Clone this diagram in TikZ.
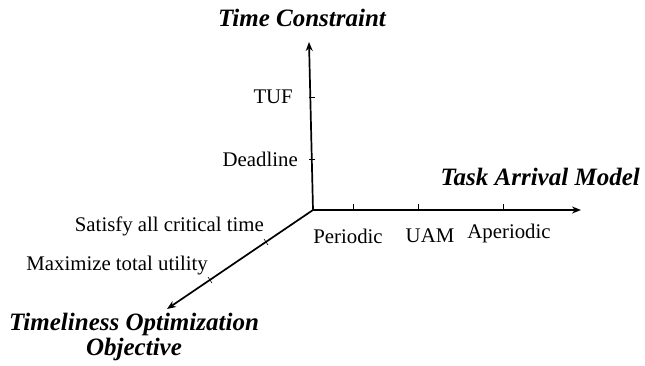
\documentclass[tikz,border=0pt]{standalone}
\usepackage{fontspec}
\setmainfont{Liberation Serif}
\usetikzlibrary{arrows.meta,calc}
\begin{document}
\begin{tikzpicture}[x=1pt,y=-1pt,
  axis/.style={line width=1.7pt,-{Stealth[length=9pt,width=7pt]}},
  tick/.style={line width=0.6pt},
  lbl/.style={font=\fontsize{20.8}{22}\selectfont,inner sep=0pt},
  title/.style={font=\fontsize{25}{25}\selectfont\bfseries\itshape,inner sep=0pt,align=center}]
\useasboundingbox (0,0) rectangle (645,365);
\coordinate (o) at (313,210);
\coordinate (ztip) at (309,42);
\coordinate (xtip) at (581,210);
\coordinate (ytip) at (167,309);
\draw[axis] (o) -- (ztip);
\draw[axis] (o) -- (xtip);
\draw[axis] (o) -- (ytip);
% ticks vertical
\coordinate (t1) at (311.8,97);
\coordinate (t2) at (312.3,159);
\draw[tick] ([xshift=-3]t1) -- ([xshift=3]t1);
\draw[tick] ([xshift=-3]t2) -- ([xshift=3]t2);
% ticks horizontal
\foreach \x/\n in {353/h1,418/h2,503/h3}{
  \coordinate (\n) at (\x,210);
  \draw[tick] (\x,204) -- (\x,210);
}
% ticks diagonal
\coordinate (d1) at (266,242);
\coordinate (d2) at (210,280);
\draw[tick] ($(d1)+(-2,-3)$) -- ($(d1)+(2,3)$);
\draw[tick] ($(d2)+(-2,-3)$) -- ($(d2)+(2,3)$);
% labels
\node[title] (tc) at (302,18) {Time Constraint};
\node[title,anchor=east] (tam) at (640,177) {Task Arrival Model};
\node[title] (too) at (134,337) {Timeliness Optimization\\Objective};
\node[lbl,anchor=east] (tuf) at (293,97) {TUF};
\node[lbl,anchor=east] (dl) at (298,159) {Deadline};
\node[lbl] (per) at (348,236) {Periodic};
\node[lbl] (uam) at (430,236) {UAM};
\node[lbl] (ape) at (509,233) {Aperiodic};
\node[lbl,anchor=east] (sat) at (264,226) {Satisfy all critical time};
\node[lbl,anchor=east] (max) at (208,266) {Maximize total utility};
\end{tikzpicture}
\end{document}
